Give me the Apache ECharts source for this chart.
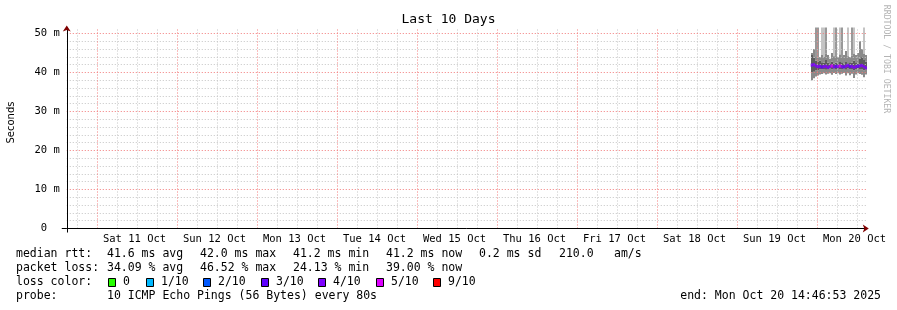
<!DOCTYPE html>
<html><head><meta charset="utf-8">
<script src="https://cdn.jsdelivr.net/npm/echarts@6/dist/echarts.min.js"></script>
<style>html,body{margin:0;padding:0;background:#fff}#c{width:897px;height:310px}</style>
</head><body><div id="c"></div>
<script>
// Time axis in hours counted from Fri Oct 10 00:00
const startHour = 14.7814;   // Fri Oct 10 14:46:53
const endHour = 254.7814;    // Mon Oct 20 14:46:53
const dayLabels = ['Sat 11 Oct','Sun 12 Oct','Mon 13 Oct','Tue 14 Oct','Wed 15 Oct','Thu 16 Oct','Fri 17 Oct','Sat 18 Oct','Sun 19 Oct','Mon 20 Oct'];
const dayNoonHours = [36,60,84,108,132,156,180,204,228,252];
const midnightHours = [24,48,72,96,120,144,168,192,216,240];
const yLabelValues = [0,10,20,30,40,50];
const yMajorValues = [10,20,30,40,50];

// Samples (hours from Oct 10 00:00), 36-minute steps
const times = [238.3,238.9,239.5,240.1,240.7,241.3,241.9,242.5,243.1,243.7,244.3,244.9,245.5,246.1,246.7,247.3,247.9,248.5,249.1,249.7,250.3,250.9,251.5,252.1,252.7,253.3,253.9,254.5];
// smoke (ms)
const pingLow  = [38.0,38.5,39.0,39.2,39.5,39.6,39.8,39.5,39.7,39.8,39.4,39.9,39.6,39.8,39.5,39.7,39.9,39.2,39.8,39.3,39.7,38.6,39.5,39.8,39.6,39.4,38.8,39.5];
const bandLow  = [40.0,40.2,40.5,40.6,40.8,40.8,40.9,40.7,40.9,41.0,40.8,41.0,40.9,41.0,40.8,40.9,41.0,40.7,41.0,40.8,40.9,40.5,40.8,41.0,40.9,40.8,40.6,40.9];
const bandHigh = [44.5,43.8,43.0,42.8,43.0,42.6,42.5,43.2,42.5,42.4,42.8,42.3,42.5,42.4,42.9,42.6,42.3,42.7,42.4,42.6,42.5,43.0,42.6,42.3,43.5,44.0,43.2,42.8];
const pingHigh = [45.0,46.0,44.0,43.8,44.0,44.5,44.0,44.8,44.5,43.5,45.0,44.2,44.0,44.0,44.6,44.0,44.5,45.5,44.2,44.0,44.3,44.8,44.5,45.0,48.0,46.0,44.8,44.5];
const spikeDark  = [null,null,60,60,null,null,null,60,null,null,null,null,60,null,null,60,null,null,null,null,60,null,null,null,null,null,null,null];
const spikeLight = [null,null,null,null,null,60,60,null,null,null,null,60,null,null,60,null,null,null,60,null,null,60,null,null,null,null,60,null];
// median rtt (ms) and packet loss (pings out of 10)
const median = [41.9,42.0,41.7,41.5,41.6,41.4,41.5,41.6,41.3,41.5,41.7,41.4,41.6,41.5,41.7,41.5,41.4,41.6,41.8,41.5,41.6,41.3,41.5,41.6,41.7,41.8,41.5,41.2];
const loss   = [3.9,3.6,3.3,3.7,3.5,2.6,3.4,3.8,3.6,3.1,4.3,3.2,2.9,3.7,4.65,3.3,3.0,3.5,3.5,2.41,3.6,3.2,3.4,2.8,3.2,3.3,3.1,3.9];

const lossLabels = ['0','1/10','2/10','3/10','4/10','5/10','9/10'];
const lossColors = ['#26ff00','#00b8ff','#0059ff','#5e00ff','#7e00ff','#dd00ff','#ff0000'];

const rttLabel = 'median rtt:';
const rttStats = ['41.6 ms avg','42.0 ms max','41.2 ms min','41.2 ms now','0.2 ms sd','210.0','am/s'];
const lossLabel = 'packet loss:';
const lossStats = ['34.09 % avg','46.52 % max','24.13 % min','39.00 % now'];
const probeText = '10 ICMP Echo Pings (56 Bytes) every 80s';
const endText = 'end: Mon Oct 20 14:46:53 2025';

// ---- build ----
const stepHours = 0.6;
const minorHours = [];
for (let h = 18; h <= endHour; h += 6) if (h % 24) minorHours.push(h);
const minorMs = [];
for (let v = 2; v <= 50; v += 2) if (v % 10) minorMs.push(v);

const mono = 'DejaVu Sans Mono';
const chart = echarts.init(document.getElementById('c'), null, {renderer: 'canvas'});

const smokeData = times.map((t, i) => [t, pingLow[i], bandLow[i], bandHigh[i], pingHigh[i],
  spikeDark[i] == null ? '-' : spikeDark[i], spikeLight[i] == null ? '-' : spikeLight[i]]);

function renderSmoke(params, api) {
  const t = api.value(0);
  const w = api.size([stepHours, 0])[0];
  const cx = api.coord([t, 0])[0];
  const x0 = Math.round(cx - w / 2), x1 = Math.round(cx + w / 2);
  const children = [];
  function band(a, b, color) {
    const ya = api.coord([t, a])[1], yb = api.coord([t, b])[1];
    children.push({type: 'rect', shape: {x: x0, y: yb, width: x1 - x0, height: ya - yb}, style: {fill: color}});
  }
  const lo = api.value(1), q1 = api.value(2), q3 = api.value(3), hi = api.value(4);
  const sd = api.value(5), sl = api.value(6);
  if (!isNaN(sl)) band(hi, sl, '#c4c4c4');
  if (!isNaN(sd)) band(hi, sd, '#999999');
  band(lo, q1, '#8a8a8a');
  band(q1, q3, '#5c5c5c');
  band(q3, hi, '#8a8a8a');
  return {type: 'group', children};
}

function off() { return {show: false}; }
function xa(extra) { return Object.assign({type: 'value', min: startHour, max: endHour, position: 'bottom', gridIndex: 0}, extra); }
function ya(extra) { return Object.assign({type: 'value', min: 0, max: 51.54, position: 'left', gridIndex: 0}, extra); }

const swX = [108, 146, 203, 261, 318, 376, 433];
const graphics = [];
function txt(x, y, text, extra) {
  graphics.push({type: 'text', x, y, style: Object.assign({text, font: '11.5px "DejaVu Sans Mono"', fill: '#000', textVerticalAlign: 'middle'}, extra || {})});
}
txt(16, 254.5, rttLabel);
[107, 200, 293, 386, 479, 559, 614].forEach((x, i) => txt(x, 254.5, rttStats[i]));
txt(16, 268.5, lossLabel);
[107, 200, 293, 386].forEach((x, i) => txt(x, 268.5, lossStats[i]));
txt(16, 282.5, 'loss color:');
swX.forEach((x, i) => {
  graphics.push({type: 'rect', shape: {x: x + 0.5, y: 278.5, width: 7, height: 8}, style: {fill: lossColors[i], stroke: '#000', lineWidth: 1}});
  txt(x + 15, 282.5, lossLabels[i]);
});
txt(16, 296.5, 'probe:');
txt(107, 296.5, probeText);
txt(881, 296.5, endText, {textAlign: 'right'});
graphics.push({type: 'text', x: 11, y: 122.5, rotation: Math.PI / 2,
  style: {text: 'Seconds', font: '10px "DejaVu Sans"', fill: '#000', textAlign: 'center', textVerticalAlign: 'middle'}});
graphics.push({type: 'text', x: 886, y: 59, rotation: -Math.PI / 2,
  style: {text: 'RRDTOOL / TOBI OETIKER', font: '8.2px "DejaVu Sans Mono"', fill: '#b4b4b4', textAlign: 'center', textVerticalAlign: 'middle'}});

function gridLines(vals, key) { return vals.map(v => { const o = {}; o[key] = v; return o; }); }

const option = {
  animation: false,
  backgroundColor: '#ffffff',
  title: {text: 'Last 10 Days', left: 'center', top: 13, padding: 0,
    textStyle: {fontFamily: mono, fontSize: 13, fontWeight: 'normal', color: '#000'}},
  grid: {left: 66.77, right: 30.23, top: 27.5, bottom: 81.5, containLabel: false},
  xAxis: [
    xa({axisLine: {show: true, onZero: false, lineStyle: {color: '#000', width: 1}},
      axisTick: {show: true, customValues: [startHour], length: 4, lineStyle: {color: '#000'}},
      axisLabel: off(), splitLine: off(), z: 6}),
    xa({axisLine: off(), axisTick: {show: false, customValues: dayNoonHours},
      axisLabel: {show: true, customValues: dayNoonHours, margin: 5, fontFamily: mono, fontSize: 10.5, color: '#000', padding: [0, 6, 0, 0],
        formatter: v => dayLabels[dayNoonHours.indexOf(Math.round(v))] || ''}, splitLine: off()}),
    xa({axisLine: {show: true, onZero: false, symbol: ['none', 'arrow'], symbolSize: [6, 6], symbolOffset: [0, 2],
      lineStyle: {color: '#800000', width: 0}}, axisTick: off(), axisLabel: off(), splitLine: off(), z: 7})
  ],
  yAxis: [
    ya({axisLine: {show: true, onZero: false, lineStyle: {color: '#000', width: 1}},
      axisTick: {show: true, customValues: [0], length: 5, lineStyle: {color: '#000'}}, axisLabel: off(), splitLine: off(), z: 6}),
    ya({axisLine: off(), axisTick: {show: false, customValues: yLabelValues},
      axisLabel: {show: true, customValues: yLabelValues, margin: 7, fontFamily: mono, fontSize: 10.5, color: '#000',
        formatter: v => v === 0 ? '0  ' : v + ' m'},
      splitLine: off()}),
    ya({axisLine: {show: true, onZero: false, symbol: ['none', 'arrow'], symbolSize: [6, 6], symbolOffset: [0, 2],
      lineStyle: {color: '#800000', width: 0}}, axisTick: off(), axisLabel: off(), splitLine: off(), z: 7})
  ],
  visualMap: {
    type: 'piecewise', show: false, seriesIndex: 1, dimension: 2,
    pieces: [
      {value: 0, color: lossColors[0]},
      {gt: 0, lte: 1, color: lossColors[1]},
      {gt: 1, lte: 2, color: lossColors[2]},
      {gt: 2, lte: 3, color: lossColors[3]},
      {gt: 3, lte: 4, color: lossColors[4]},
      {gt: 4, lte: 5, color: lossColors[5]},
      {gt: 5, lte: 10, color: lossColors[6]}
    ]
  },
  series: [
    {name: 'smoke', type: 'custom', renderItem: renderSmoke, clip: true, silent: true, z: 2,
      encode: {x: 0, y: [1, 4]}, data: smokeData},
    {name: 'median', type: 'scatter', symbol: 'rect', symbolSize: [2.4, 3.2], z: 10, silent: true,
      data: times.map((t, i) => [t, median[i], loss[i]])},
    {name: 'minorGrid', type: 'line', z: 4, silent: true, symbol: 'none', showSymbol: false,
      lineStyle: {width: 0}, data: [[startHour, 0]],
      markLine: {silent: true, symbol: ['none', 'none'], label: {show: false}, animation: false,
        lineStyle: {color: '#c4c4c4', opacity: 1, width: 1, type: [1, 2]},
        data: gridLines(minorHours, 'xAxis').concat(gridLines(minorMs, 'yAxis'))}},
    {name: 'majorGrid', type: 'line', z: 5, silent: true, symbol: 'none', showSymbol: false,
      lineStyle: {width: 0}, data: [[startHour, 0]],
      markLine: {silent: true, symbol: ['none', 'none'], label: {show: false}, animation: false,
        lineStyle: {color: '#f27a7a', opacity: 1, width: 1, type: [1, 2]},
        data: gridLines(midnightHours, 'xAxis').concat(gridLines(yMajorValues, 'yAxis'))}}
  ],
  graphic: graphics
};
chart.setOption(option);
</script>
</body></html>
